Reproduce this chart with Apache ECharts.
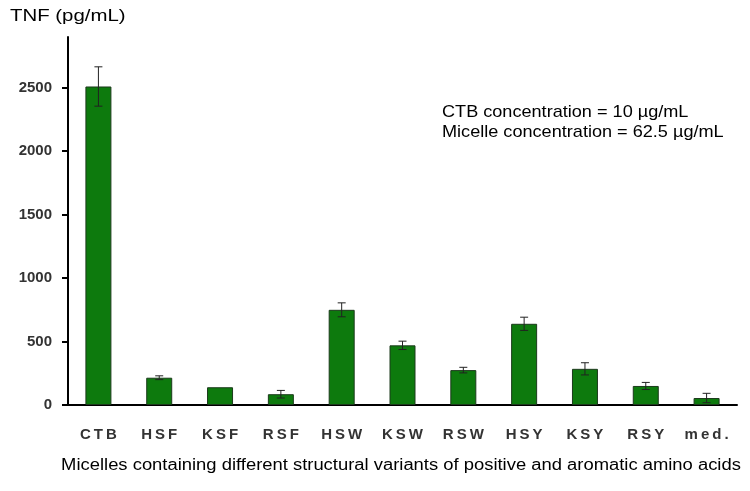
<!DOCTYPE html>
<html><head><meta charset="utf-8">
<script src="https://cdn.jsdelivr.net/npm/echarts@6/dist/echarts.min.js"></script>
<style>html,body{margin:0;padding:0;background:#fff}#c{width:750px;height:491px}</style>
</head><body><div id="c"></div>
<script>
const categories = ['CTB','HSF','KSF','RSF','HSW','KSW','RSW','HSY','KSY','RSY','med.'];
const tnfValues = [2510, 215, 140, 85, 750, 470, 275, 640, 285, 150, 55];
const tnfErrors = [155, 15, 0, 30, 55, 33, 22, 52, 48, 28, 37];
const yTicks = [0, 500, 1000, 1500, 2000, 2500];
const yTitle = 'TNF (pg/mL)';
const xTitle = 'Micelles containing different structural variants of positive and aromatic amino acids';
const notes = ['CTB concentration = 10 µg/mL', 'Micelle concentration = 62.5 µg/mL'];

const FONT = 'Arial, "Liberation Sans", sans-serif';
const chart = echarts.init(document.getElementById('c'));
const errData = tnfValues.map((v, i) => [i, v - tnfErrors[i], v + tnfErrors[i]]);
chart.setOption({
  animation: false,
  grid: {left: 68, right: 13, top: 37, bottom: 86},
  graphic: [
    {type: 'text', x: 10, y: 16, scaleX: 1.2,
     style: {text: yTitle, font: '17px ' + FONT, fill: '#000', verticalAlign: 'middle', align: 'left'}},
    {type: 'text', x: 442, y: 112, scaleX: 1.065,
     style: {text: notes[0], font: '17px ' + FONT, fill: '#000', verticalAlign: 'middle', align: 'left'}},
    {type: 'text', x: 442, y: 132, scaleX: 1.065,
     style: {text: notes[1], font: '17px ' + FONT, fill: '#000', verticalAlign: 'middle', align: 'left'}},
    {type: 'text', x: 401, y: 466, scaleX: 1.15,
     style: {text: xTitle, font: '16px ' + FONT, fill: '#000', verticalAlign: 'middle', align: 'center'}}
  ],
  xAxis: {
    type: 'category', data: categories,
    axisLine: {lineStyle: {color: '#000', width: 2}},
    axisTick: {length: 6, lineStyle: {color: '#000', width: 2}},
    axisLabel: {margin: 22, fontFamily: FONT, fontWeight: 'bold', fontSize: 15, color: '#333',
      formatter: v => v.split('').join('\u2009')}
  },
  yAxis: {
    type: 'value', min: 0, max: 2900,
    splitLine: {show: false},
    axisLine: {show: true, lineStyle: {color: '#000', width: 2}},
    axisTick: {show: true, length: 6, lineStyle: {color: '#000', width: 2}, customValues: yTicks},
    axisLabel: {margin: 16, fontFamily: FONT, fontWeight: 'bold', fontSize: 15, color: '#333',
      customValues: yTicks, formatter: v => String(v)}
  },
  series: [
    {type: 'bar', data: tnfValues, barWidth: 26,
     itemStyle: {color: '#0d7a0d', borderColor: '#1c3a1c', borderWidth: 1}},
    {type: 'custom', data: errData, z: 10,
     renderItem: (params, api) => {
       const x = api.value(0);
       if (api.value(2) - api.value(1) <= 0) return null;
       const lo = api.coord([x, api.value(1)]);
       const hi = api.coord([x, api.value(2)]);
       const w = 4;
       const st = {stroke: '#222', lineWidth: 1};
       return {type: 'group', children: [
         {type: 'line', shape: {x1: lo[0], y1: lo[1], x2: hi[0], y2: hi[1]}, style: st},
         {type: 'line', shape: {x1: lo[0]-w, y1: lo[1], x2: lo[0]+w, y2: lo[1]}, style: st},
         {type: 'line', shape: {x1: hi[0]-w, y1: hi[1], x2: hi[0]+w, y2: hi[1]}, style: st}
       ]};
     }}
  ]
});
</script></body></html>
